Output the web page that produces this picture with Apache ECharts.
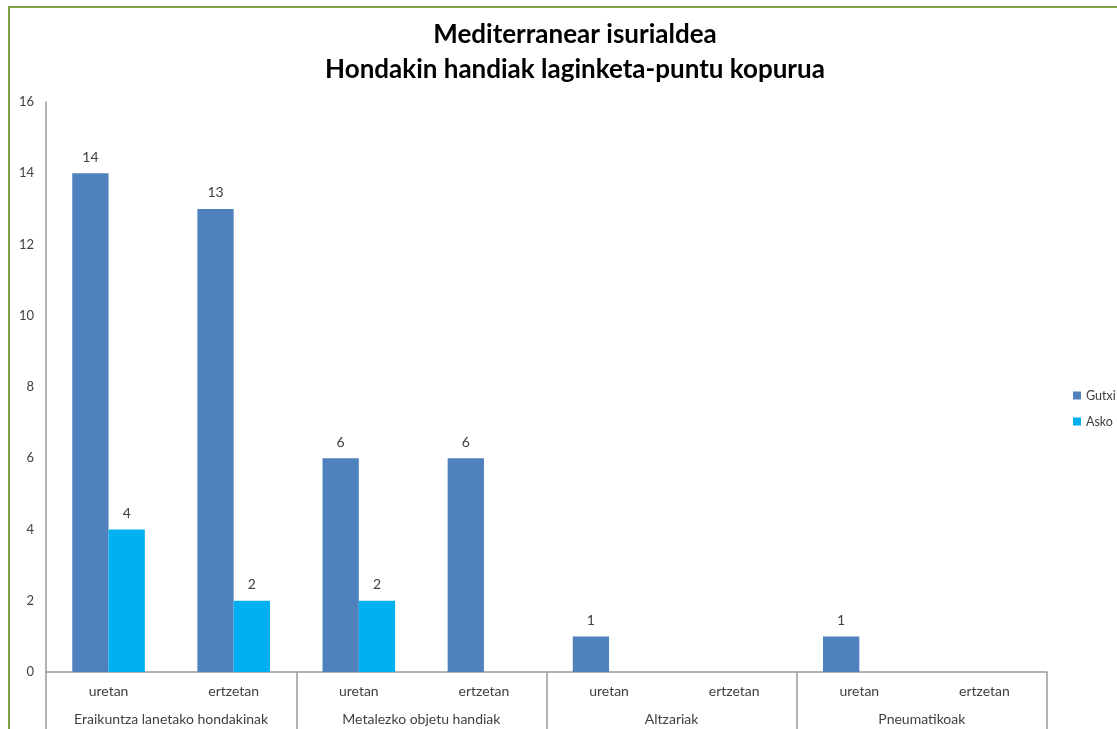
<!DOCTYPE html>
<html>
<head>
<meta charset="utf-8">
<script src="https://cdn.jsdelivr.net/npm/echarts@6/dist/echarts.min.js"></script>
<style>
  html, body { margin: 0; padding: 0; background: #fff; }
  #frame { position: absolute; left: 8px; top: 6px; width: 1200px; height: 800px;
           border-left: 2px solid #7f9f48; border-top: 2px solid #7f9f48; }
  #chart { position: absolute; left: 0; top: 0; width: 1117px; height: 729px; }
</style>
</head>
<body>
<div id="frame"></div>
<div id="chart"></div>
<script>
var places = ['uretan', 'ertzetan', 'uretan', 'ertzetan', 'uretan', 'ertzetan', 'uretan', 'ertzetan'];
var groups = ['Eraikuntza lanetako hondakinak', 'Metalezko objetu handiak', 'Altzariak', 'Pneumatikoak'];
var gutxi = [14, 13, 6, 6, 1, 0, 1, 0];
var asko = [4, 2, 2, 0, 0, 0, 0, 0];

var font = 'Lato, "Open Sans", sans-serif';
var myChart = echarts.init(document.getElementById('chart'));

// zero values carry no label in the original
var labelOpt = {
  show: true,
  position: 'top',
  distance: 9,
  color: '#404040',
  fontSize: 14,
  fontFamily: font,
  formatter: function (p) { return p.value ? p.value : ''; }
};

var option = {
  animation: false,
  title: {
    text: 'Mediterranear isurialdea\nHondakin handiak laginketa-puntu kopurua',
    left: 570,
    top: 12,
    textAlign: 'center',
    textStyle: { fontFamily: font, fontSize: 26, fontWeight: 'bold', color: '#000', lineHeight: 35 }
  },
  legend: {
    orient: 'vertical',
    left: 1068,
    top: 384,
    itemWidth: 8,
    itemHeight: 8,
    itemGap: 13,
    icon: 'rect',
    data: ['Gutxi', 'Asko'],
    textStyle: { fontFamily: font, fontSize: 12.5, color: '#404040' }
  },
  grid: { left: 46, right: 70, top: 102, bottom: 57, containLabel: false },
  xAxis: [
    {
      type: 'category',
      data: places,
      position: 'bottom',
      axisLine: { lineStyle: { color: '#9a9a9a', width: 1.5 } },
      axisTick: { show: false },
      axisLabel: { interval: 0, margin: 12, color: '#404040', fontSize: 14, fontFamily: font }
    },
    {
      type: 'category',
      data: groups,
      position: 'bottom',
      axisLine: { show: false },
      axisTick: { show: true, interval: 0, length: 80, inside: false, lineStyle: { color: '#9a9a9a', width: 1.5 } },
      axisLabel: { interval: 0, margin: 40, color: '#404040', fontSize: 14, fontFamily: font }
    }
  ],
  yAxis: {
    type: 'value',
    min: 0,
    max: 16,
    interval: 2,
    axisLine: { show: true, lineStyle: { color: '#9a9a9a', width: 1.5 } },
    axisTick: { show: false },
    splitLine: { show: false },
    axisLabel: { margin: 12, color: '#404040', fontSize: 13, fontFamily: font }
  },
  series: [
    {
      name: 'Gutxi',
      type: 'bar',
      data: gutxi,
      barGap: '0%',
      barCategoryGap: '42%',
      itemStyle: { color: '#4f81bd' },
      label: labelOpt
    },
    {
      name: 'Asko',
      type: 'bar',
      data: asko,
      itemStyle: { color: '#00b0f0' },
      label: labelOpt
    }
  ]
};

myChart.setOption(option);

window.onresize = function () {
  myChart.resize();
};
</script>
</body>
</html>
